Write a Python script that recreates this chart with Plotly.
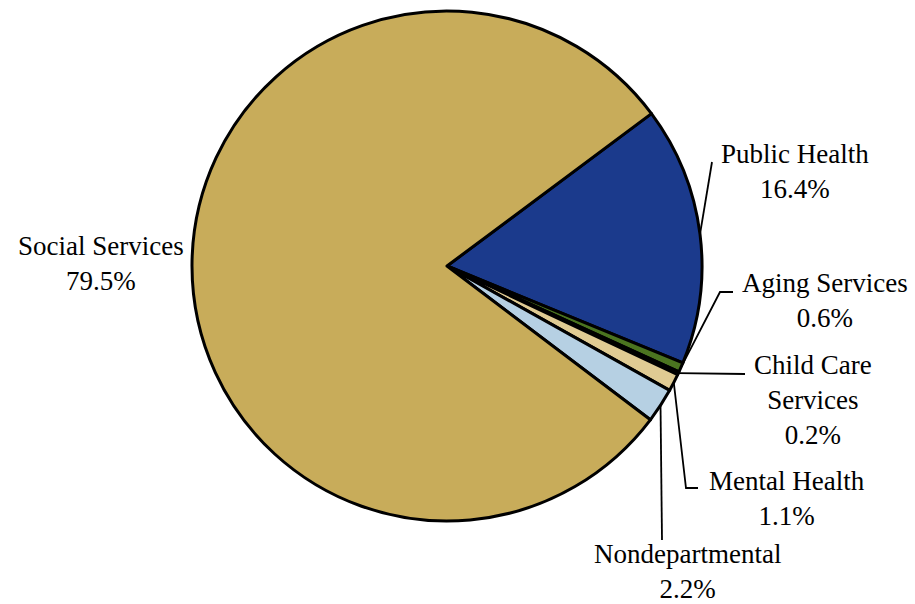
import math
import plotly.graph_objects as go

# Budget shares by department (percent)
labels = ['Public Health', 'Aging Services', 'Child Care Services',
          'Mental Health', 'Nondepartmental', 'Social Services']
label_text = ['Public Health', 'Aging Services', 'Child Care<br>Services',
              'Mental Health', 'Nondepartmental', 'Social Services']
values = [16.4, 0.6, 0.2, 1.1, 2.2, 79.5]
colors = ['#1B3A8C', '#4B7420', '#111111', '#E0CB93', '#B6D0E3', '#C8AC5A']

# Layout in pixel space (915 x 604)
W, H = 915, 604
cx, cy, r = 447, 266, 255
rotation = 53.3

# label centres and leader elbows
label_pos = [(795, 171), (825, 300), (813, 400), (787, 498), (687, 571), (101, 263)]
elbows = [[(712, 162)], [(720, 292), (733, 292)], [(745, 374)],
          [(686, 488), (698, 488)], [(662, 540)], None]

fig = go.Figure()
fig.add_trace(go.Pie(
    labels=labels, values=values, sort=False, direction='clockwise',
    rotation=rotation, textinfo='none', hoverinfo='label+percent',
    marker=dict(colors=colors, line=dict(color='black', width=3)),
    domain=dict(x=[(cx - r) / W, (cx + r) / W],
                y=[1 - (cy + r) / H, 1 - (cy - r) / H]),
    showlegend=False))

# leader lines from slice mid-angles
total = sum(values)
cum = 0
for i, v in enumerate(values):
    mid = math.radians(rotation + 360 * (cum + v / 2) / total)
    cum += v
    if elbows[i] is None:
        continue
    ax = cx + r * math.sin(mid)
    ay = cy - r * math.cos(mid)
    pts = [(ax, ay)] + elbows[i]
    fig.add_trace(go.Scatter(
        x=[p[0] for p in pts], y=[p[1] for p in pts], mode='lines',
        line=dict(color='black', width=1.8), hoverinfo='skip', showlegend=False))

for i, (lx, ly) in enumerate(label_pos):
    fig.add_annotation(x=lx, y=ly, xref='x', yref='y', showarrow=False,
                       text=f'{label_text[i]}<br>{values[i]}%',
                       font=dict(family='Liberation Serif', size=27, color='black'),
                       align='center', xanchor='center', yanchor='middle')

fig.update_xaxes(range=[0, W], visible=False)
fig.update_yaxes(range=[H, 0], visible=False)
fig.update_layout(width=W, height=H, margin=dict(l=0, r=0, t=0, b=0),
                  paper_bgcolor='white', plot_bgcolor='rgba(0,0,0,0)')
fig.write_html('out.html', config={'displayModeBar': False},
               post_script="document.body.style.margin='0';document.body.style.overflow='hidden';")
